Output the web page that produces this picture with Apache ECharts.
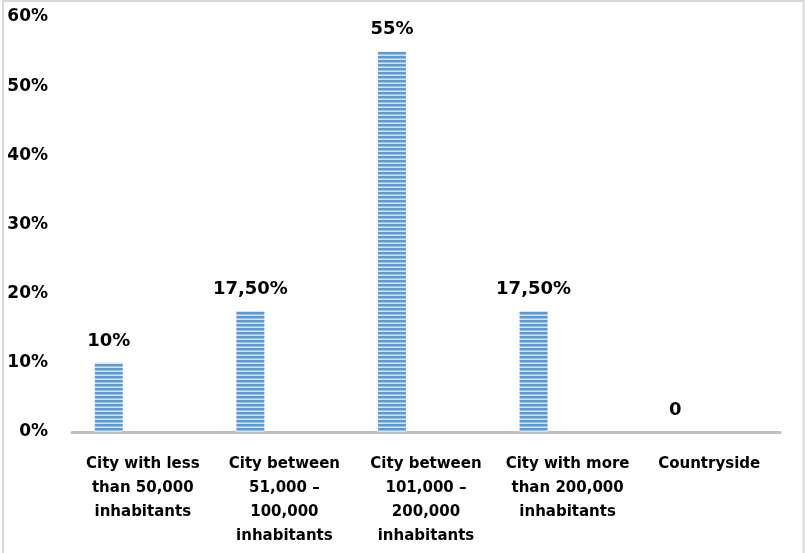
<!DOCTYPE html>
<html>
<head>
<meta charset="utf-8">
<script src="https://cdn.jsdelivr.net/npm/echarts@6/dist/echarts.min.js"></script>
<style>
  html, body { margin: 0; padding: 0; background: #fff; }
  #chart { width: 805px; height: 553px; }
</style>
</head>
<body>
<div id="chart"></div>
<script>
// Chart data
var categories = [
    'City with less\nthan 50,000\ninhabitants',
    'City between\n51,000 –\n100,000\ninhabitants',
    'City between\n101,000 –\n200,000\ninhabitants',
    'City with more\nthan 200,000\ninhabitants',
    'Countryside'
];
var shares = [0.10, 0.175, 0.55, 0.175, 0];
var shareLabels = ['10%', '17,50%', '55%', '17,50%', '0'];
var emptySeries = [null, null, null, null, null];

// Striped fill like the original bars
var makeStripes = function() {
    var c = document.createElement('canvas');
    c.width = 4;
    c.height = 4;
    var ctx = c.getContext('2d');
    ctx.fillStyle = '#5b9bd5';
    ctx.fillRect(0, 0, 4, 4);
    ctx.fillStyle = '#9dc0e6';
    ctx.fillRect(0, 2, 4, 1);
    ctx.fillStyle = '#d6e5f5';
    ctx.fillRect(0, 3, 4, 1);
    return c;
};

var fontFamily = '"DejaVu Sans", sans-serif';
var chart = echarts.init(document.getElementById('chart'));

chart.setOption({
    animation: false,
    textStyle: {
        fontFamily: fontFamily
    },
    graphic: [{
        type: 'rect',
        shape: { x: 3, y: 1, width: 800.5, height: 600 },
        style: { fill: 'none', stroke: '#d9d9d9', lineWidth: 2 },
        silent: true
    }],
    grid: {
        left: 72,
        right: 25,
        top: 17,
        bottom: 121
    },
    xAxis: {
        type: 'category',
        data: categories,
        axisLine: { lineStyle: { color: '#bfbfbf', width: 3 } },
        axisTick: { show: false },
        axisLabel: {
            interval: 0,
            margin: 20,
            color: '#000',
            fontWeight: 'bold',
            fontSize: 15,
            lineHeight: 24,
            fontFamily: fontFamily
        }
    },
    yAxis: {
        type: 'value',
        min: 0,
        max: 0.6,
        interval: 0.1,
        axisLine: { show: false },
        axisTick: { show: false },
        splitLine: { show: false },
        axisLabel: {
            margin: 24,
            color: '#000',
            fontWeight: 'bold',
            fontSize: 17,
            fontFamily: fontFamily,
            formatter: function(v) { return Math.round(v * 100) + '%'; }
        }
    },
    series: [
        {
            type: 'bar',
            data: shares,
            barWidth: 28,
            barGap: '143%',
            itemStyle: {
                color: { image: makeStripes(), repeat: 'repeat' }
            },
            label: {
                show: true,
                position: 'top',
                distance: 13,
                color: '#000',
                fontWeight: 'bold',
                fontSize: 18,
                fontFamily: fontFamily,
                formatter: function(p) { return shareLabels[p.dataIndex]; }
            }
        },
        {
            type: 'bar',
            data: emptySeries,
            barWidth: 28
        }
    ]
});
</script>
</body>
</html>
